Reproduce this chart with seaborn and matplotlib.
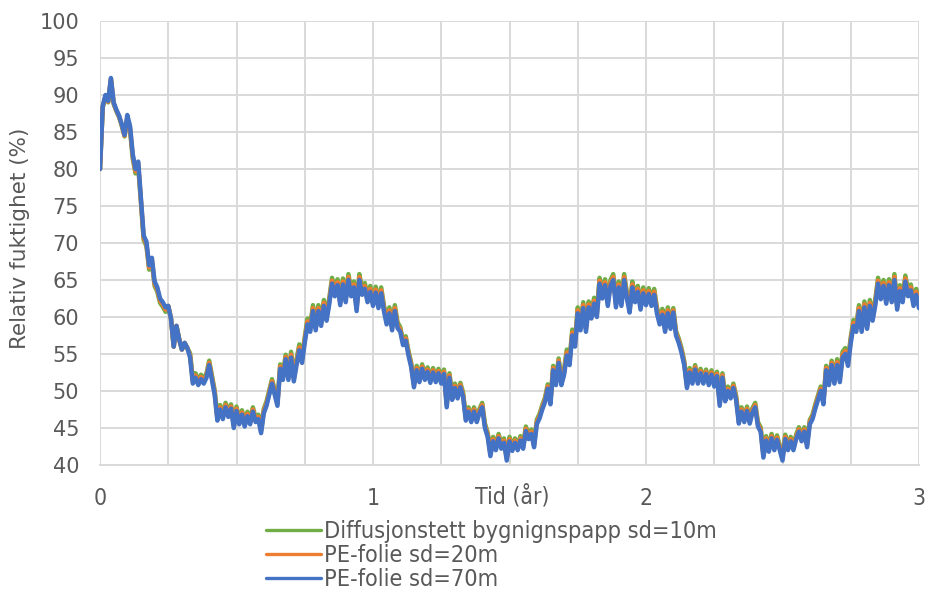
import numpy as np
import pandas as pd
import matplotlib
matplotlib.use("Agg")
import matplotlib.pyplot as plt
from matplotlib.ticker import MultipleLocator, FixedLocator
import seaborn as sns

# ---------------- data ----------------
years = np.round(np.linspace(0.0, 3.0, 301), 2)

series_names = ["Diffusjonstett bygnignspapp sd=10m", "PE-folie sd=20m", "PE-folie sd=70m"]
series_colors = ["#70AD47", "#ED7D31", "#4472C4"]

rh_pe70 = [
    80.0, 88.5, 90.0, 89.2, 92.3, 89.0, 88.0, 87.2, 86.0, 84.6,
    87.3, 85.8, 82.0, 80.0, 81.0, 76.0, 71.0, 70.2, 67.0, 68.0,
    64.8, 64.0, 62.5, 62.0, 61.3, 61.5, 59.8, 56.0, 58.8, 57.0,
    55.6, 56.5, 55.8, 54.5, 51.0, 51.8, 50.8, 51.6, 51.0, 51.8,
    53.5, 51.5, 49.5, 46.0, 47.5, 46.2, 47.8, 46.5, 47.6, 45.0,
    47.3, 45.5, 46.8, 45.2, 46.6, 45.5, 47.2, 45.8, 46.2, 44.3,
    47.0, 48.0, 49.5, 51.0, 49.5, 48.0, 53.0, 51.5, 54.3, 51.5,
    54.5, 51.3, 53.5, 55.5, 53.8, 56.5, 59.0, 58.0, 60.8, 58.2,
    60.8, 58.8, 61.5, 59.5, 61.8, 64.5, 62.8, 64.3, 61.6, 64.4,
    62.0, 65.0, 62.8, 64.0, 60.8, 65.0, 63.0, 63.8, 62.0, 63.4,
    61.5, 63.3, 61.2, 63.2, 60.8, 59.0, 60.5, 58.2, 60.8, 58.5,
    58.0, 56.2, 56.8, 54.8, 53.2, 50.5, 52.8, 51.2, 53.0, 51.5,
    52.6, 51.1, 52.5, 51.2, 52.4, 51.0, 52.3, 47.8, 51.8, 48.8,
    50.4, 49.0, 50.5, 49.2, 46.0, 47.2, 45.8, 47.2, 45.8, 47.0,
    47.8, 45.0, 43.8, 41.2, 43.2, 42.0, 43.6, 42.2, 43.0, 40.6,
    43.2, 41.9, 43.0, 42.0, 43.3, 42.2, 44.6, 43.5, 44.2, 42.4,
    45.5, 46.3, 47.5, 48.5, 50.3, 48.2, 52.8, 50.8, 53.8, 50.8,
    52.2, 54.8, 53.5, 57.5, 56.0, 60.5, 58.2, 61.2, 58.0, 61.3,
    59.8, 61.8, 60.0, 64.5, 62.5, 64.3, 61.5, 64.2, 65.0, 61.3,
    64.0, 61.5, 65.0, 62.5, 60.6, 64.0, 62.0, 63.4, 61.0, 63.2,
    61.6, 63.1, 61.5, 63.0, 60.5, 59.0, 60.3, 58.0, 60.5, 58.4,
    60.6, 57.5, 56.5, 55.2, 53.5, 50.4, 52.5, 51.0, 52.9, 51.0,
    52.4, 51.0, 52.3, 50.8, 52.2, 50.6, 52.0, 48.0, 51.8, 48.6,
    50.0, 49.0, 50.4, 48.8, 45.6, 47.2, 45.8, 47.3, 45.6, 47.1,
    47.8, 45.2, 44.5, 41.0, 43.3, 41.8, 43.6, 42.0, 43.4, 42.0,
    40.6, 43.5, 42.0, 43.2, 42.0, 43.5, 44.5, 43.2, 44.5, 42.4,
    45.5, 46.2, 47.6, 48.8, 50.0, 48.2, 52.8, 50.8, 53.5, 51.0,
    53.5, 51.2, 54.5, 55.0, 53.4, 56.5, 58.8, 58.0, 60.8, 58.0,
    61.3, 58.4, 61.5, 59.5, 61.6, 64.5, 62.4, 64.2, 61.8, 64.3,
    62.0, 65.0, 61.0, 63.5, 62.0, 64.8, 62.8, 63.6, 61.5, 63.0,
    61.2,
]

rh_pe20 = [
    80.0, 88.4, 89.9, 89.1, 92.2, 88.9, 87.9, 87.1, 85.9, 84.5,
    87.0, 85.5, 81.7, 79.7, 80.7, 75.7, 70.7, 69.9, 66.7, 67.7,
    64.5, 63.7, 62.2, 61.7, 61.0, 61.5, 59.8, 56.0, 58.8, 57.0,
    55.6, 56.5, 55.8, 54.8, 51.3, 52.1, 51.1, 51.9, 51.3, 52.1,
    53.8, 51.8, 49.8, 46.3, 47.8, 46.5, 48.1, 46.8, 47.9, 45.3,
    47.6, 45.8, 47.1, 45.5, 46.9, 45.8, 47.5, 46.1, 46.5, 44.6,
    47.3, 48.3, 49.8, 51.3, 49.8, 48.3, 53.3, 51.8, 54.6, 51.8,
    54.9, 51.7, 53.9, 55.9, 54.2, 56.9, 59.4, 58.4, 61.2, 58.6,
    61.2, 59.2, 61.9, 59.9, 62.2, 64.9, 63.2, 64.7, 62.0, 64.8,
    62.4, 65.4, 63.2, 64.4, 61.2, 65.4, 63.4, 64.2, 62.4, 63.8,
    61.9, 63.7, 61.6, 63.6, 61.2, 59.4, 60.9, 58.6, 61.2, 58.9,
    58.3, 56.5, 57.1, 55.1, 53.5, 50.8, 53.1, 51.5, 53.3, 51.8,
    52.9, 51.4, 52.8, 51.5, 52.7, 51.3, 52.6, 48.1, 52.1, 49.1,
    50.7, 49.3, 50.8, 49.5, 46.3, 47.5, 46.1, 47.5, 46.1, 47.3,
    48.1, 45.3, 44.1, 41.5, 43.5, 42.3, 43.9, 42.5, 43.3, 40.9,
    43.5, 42.2, 43.3, 42.3, 43.6, 42.5, 44.9, 43.8, 44.5, 42.7,
    45.8, 46.6, 47.8, 48.8, 50.6, 48.5, 53.1, 51.1, 54.1, 51.1,
    52.6, 55.2, 53.9, 57.9, 56.4, 60.9, 58.6, 61.6, 58.4, 61.7,
    60.2, 62.2, 60.4, 64.9, 62.9, 64.7, 61.9, 64.6, 65.4, 61.7,
    64.4, 61.9, 65.4, 62.9, 61.0, 64.4, 62.4, 63.8, 61.4, 63.6,
    62.0, 63.5, 61.9, 63.4, 60.9, 59.4, 60.7, 58.4, 60.9, 58.8,
    60.9, 57.8, 56.8, 55.5, 53.8, 50.7, 52.8, 51.3, 53.2, 51.3,
    52.7, 51.3, 52.6, 51.1, 52.5, 50.9, 52.3, 48.3, 52.1, 48.9,
    50.3, 49.3, 50.7, 49.1, 45.9, 47.5, 46.1, 47.6, 45.9, 47.4,
    48.1, 45.5, 44.8, 41.3, 43.6, 42.1, 43.9, 42.3, 43.7, 42.3,
    40.9, 43.8, 42.3, 43.5, 42.3, 43.8, 44.8, 43.5, 44.8, 42.7,
    45.8, 46.5, 47.9, 49.1, 50.3, 48.5, 53.1, 51.1, 53.8, 51.3,
    53.9, 51.6, 54.9, 55.4, 53.8, 56.9, 59.2, 58.4, 61.2, 58.4,
    61.7, 58.8, 61.9, 59.9, 62.0, 64.9, 62.8, 64.6, 62.2, 64.7,
    62.4, 65.4, 61.4, 63.9, 62.4, 65.2, 63.2, 64.0, 61.9, 63.4,
    61.6,
]

rh_papp10 = [
    80.0, 88.3, 89.8, 89.0, 92.1, 88.8, 87.8, 87.0, 85.8, 84.4,
    86.7, 85.2, 81.4, 79.4, 80.4, 75.4, 70.4, 69.6, 66.4, 67.4,
    64.2, 63.4, 61.9, 61.4, 60.7, 61.5, 59.8, 56.0, 58.8, 57.0,
    55.6, 56.5, 55.8, 55.1, 51.6, 52.4, 51.4, 52.2, 51.6, 52.4,
    54.1, 52.1, 50.1, 46.6, 48.1, 46.8, 48.4, 47.1, 48.2, 45.6,
    47.9, 46.1, 47.4, 45.8, 47.2, 46.1, 47.8, 46.4, 46.8, 44.9,
    47.6, 48.6, 50.1, 51.6, 50.1, 48.6, 53.6, 52.1, 54.9, 52.1,
    55.3, 52.1, 54.3, 56.3, 54.6, 57.3, 59.8, 58.8, 61.6, 59.0,
    61.6, 59.6, 62.3, 60.3, 62.6, 65.3, 63.6, 65.1, 62.4, 65.2,
    62.8, 65.8, 63.6, 64.8, 61.6, 65.8, 63.8, 64.6, 62.8, 64.2,
    62.3, 64.1, 62.0, 64.0, 61.6, 59.8, 61.3, 59.0, 61.6, 59.3,
    58.6, 56.8, 57.4, 55.4, 53.8, 51.1, 53.4, 51.8, 53.6, 52.1,
    53.2, 51.7, 53.1, 51.8, 53.0, 51.6, 52.9, 48.4, 52.4, 49.4,
    51.0, 49.6, 51.1, 49.8, 46.6, 47.8, 46.4, 47.8, 46.4, 47.6,
    48.4, 45.6, 44.4, 41.8, 43.8, 42.6, 44.2, 42.8, 43.6, 41.2,
    43.8, 42.5, 43.6, 42.6, 43.9, 42.8, 45.2, 44.1, 44.8, 43.0,
    46.1, 46.9, 48.1, 49.1, 50.9, 48.8, 53.4, 51.4, 54.4, 51.4,
    53.0, 55.6, 54.3, 58.3, 56.8, 61.3, 59.0, 62.0, 58.8, 62.1,
    60.6, 62.6, 60.8, 65.3, 63.3, 65.1, 62.3, 65.0, 65.8, 62.1,
    64.8, 62.3, 65.8, 63.3, 61.4, 64.8, 62.8, 64.2, 61.8, 64.0,
    62.4, 63.9, 62.3, 63.8, 61.3, 59.8, 61.1, 58.8, 61.3, 59.2,
    61.2, 58.1, 57.1, 55.8, 54.1, 51.0, 53.1, 51.6, 53.5, 51.6,
    53.0, 51.6, 52.9, 51.4, 52.8, 51.2, 52.6, 48.6, 52.4, 49.2,
    50.6, 49.6, 51.0, 49.4, 46.2, 47.8, 46.4, 47.9, 46.2, 47.7,
    48.4, 45.8, 45.1, 41.6, 43.9, 42.4, 44.2, 42.6, 44.0, 42.6,
    41.2, 44.1, 42.6, 43.8, 42.6, 44.1, 45.1, 43.8, 45.1, 43.0,
    46.1, 46.8, 48.2, 49.4, 50.6, 48.8, 53.4, 51.4, 54.1, 51.6,
    54.3, 52.0, 55.3, 55.8, 54.2, 57.3, 59.6, 58.8, 61.6, 58.8,
    62.1, 59.2, 62.3, 60.3, 62.4, 65.3, 63.2, 65.0, 62.6, 65.1,
    62.8, 65.8, 61.8, 64.3, 62.8, 65.6, 63.6, 64.4, 62.3, 63.8,
    62.0,
]

y_ticks = [40, 45, 50, 55, 60, 65, 70, 75, 80, 85, 90, 95, 100]
x_ticks = [0, 1, 2, 3]
x_label = "Tid (år)"
y_label = "Relativ fuktighet (%)"

df = pd.concat([
    pd.DataFrame({"Tid": years, "RF": rh_papp10, "Serie": series_names[0]}),
    pd.DataFrame({"Tid": years, "RF": rh_pe20, "Serie": series_names[1]}),
    pd.DataFrame({"Tid": years, "RF": rh_pe70, "Serie": series_names[2]}),
], ignore_index=True)

# ---------------- styling ----------------
sns.set_theme(style="white")
plt.rcParams["font.family"] = ["DejaVu Sans"]
TXT = "#595959"
GRID = "#d9d9d9"

fig = plt.figure(figsize=(9.26, 5.92), dpi=100)
ax = fig.add_axes([100 / 926, 1 - 465 / 592, 819 / 926, 444 / 592])

sns.lineplot(data=df, x="Tid", y="RF", hue="Serie", hue_order=series_names,
             palette=series_colors, linewidth=3.2, estimator=None, sort=False,
             ax=ax)

ax.set_xlim(0, 3)
ax.set_ylim(40, 100)
ax.yaxis.set_major_locator(FixedLocator(y_ticks))
ax.xaxis.set_major_locator(FixedLocator(x_ticks))
ax.xaxis.set_minor_locator(MultipleLocator(0.25))
ax.set_yticklabels([str(v) for v in y_ticks])
ax.set_xticklabels([str(v) for v in x_ticks])

ax.grid(True, which="both", axis="x", color=GRID, linewidth=1.4)
ax.grid(True, which="major", axis="y", color=GRID, linewidth=1.4)
ax.set_axisbelow(True)
for s in ["top", "right", "left"]:
    ax.spines[s].set_visible(False)
ax.spines["bottom"].set_color(GRID)
ax.spines["bottom"].set_linewidth(1.4)

ax.tick_params(axis="y", which="both", length=0, pad=15, labelsize=15, labelcolor=TXT)
ax.tick_params(axis="x", which="both", length=5, width=1.2, color=GRID,
               direction="out", pad=11, labelsize=16.5, labelcolor=TXT)
for lab in ax.get_xticklabels():
    lab.set_fontstretch("condensed")

ax.set_xlabel(x_label, fontsize=16.5, color=TXT, fontstretch="condensed")
ax.xaxis.set_label_coords((512 - 100) / 819, (465 - 497) / 444)
ax.xaxis.label.set_va("center")
ax.set_ylabel(y_label, fontsize=15.5, color=TXT)
ax.yaxis.set_label_coords((20 - 100) / 819, 0.511)
ax.yaxis.label.set_va("center")

leg = ax.legend(loc="upper left", bbox_to_anchor=((266 - 100) / 819, (465 - 520) / 444),
                frameon=False, borderaxespad=0, borderpad=0, handlelength=2.35,
                handletextpad=0.12, labelspacing=0.05,
                prop={"size": 16.8, "stretch": "condensed"})
for t in leg.get_texts():
    t.set_color(TXT)
for h in leg.get_lines():
    h.set_linewidth(2.4)

fig.savefig("out.png", dpi=100)
